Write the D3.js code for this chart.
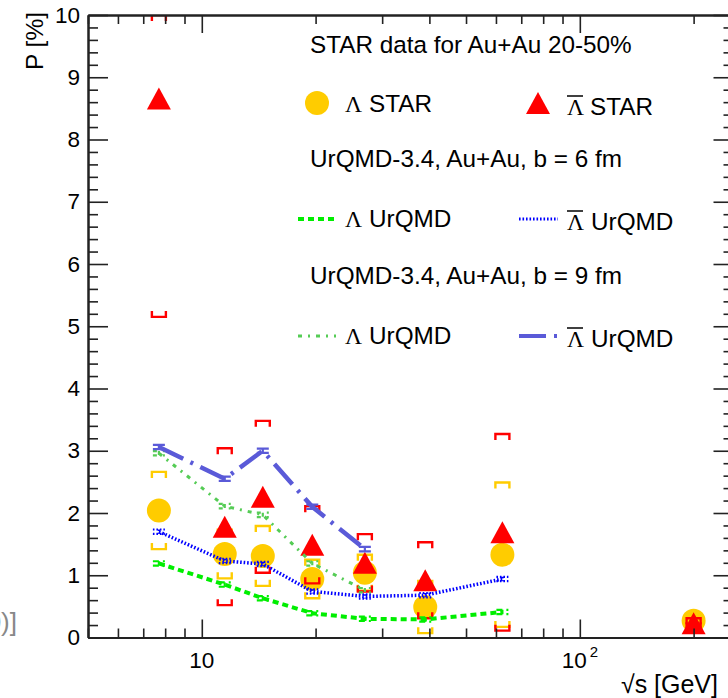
<!DOCTYPE html>
<html>
<head>
<meta charset="utf-8">
<script src="https://cdn.jsdelivr.net/npm/d3@7"></script>
<style>
  html, body { margin: 0; padding: 0; background: #fff; }
  svg { display: block; }
</style>
</head>
<body>
<script>
// ---------------- data ----------------
const energies = [7.7, 11.5, 14.5, 19.6, 27, 39, 62.4, 200];
const lamStar = [2.04, 1.34, 1.31, 0.94, 1.04, 0.49, 1.33, 0.27];
const lamStarErr = [0.62, 0.39, 0.48, 0.31, 0.29, 0.42, 1.16, 0.08];
const antiStar = [8.66, 1.78, 2.26, 1.49, 1.20, 0.92, 1.69, 0.23];
const antiStarErr = [3.51, 1.26, 1.22, 0.62, 0.46, 0.61, 1.58, 0.08];

const urqmdEnergies6 = [7.7, 11.5, 14.5, 19.6, 27, 39, 62.4];
const b6Lam = [1.19, 0.85, 0.63, 0.39, 0.30, 0.29, 0.41];
const b6Anti = [1.70, 1.23, 1.18, 0.74, 0.66, 0.68, 0.94];
const urqmdEnergies9 = [7.7, 11.5, 14.5, 19.6, 27];
const b9Lam = [2.96, 2.11, 1.97, 1.19, 0.76];
const b9Anti = [3.06, 2.55, 3.00, 2.10, 1.42];
const urqmdErr = 0.035;

const xMajorTicks = [10, 100];
const xMinorTicks = [5, 6, 7, 8, 9, 20, 30, 40, 50, 60, 70, 80, 90, 200];
const yMajorTicks = [0, 1, 2, 3, 4, 5, 6, 7, 8, 9, 10];

// ---------------- layout ----------------
const W = 728, H = 698;
const L = 88, R = 733.5, T = 15, B = 637.5;
const FONT = "'Liberation Sans', Arial, Helvetica, sans-serif";
const SERIF = "'Liberation Serif', 'DejaVu Serif', serif";
const LEGFS = 24.3;

const x = d3.scaleLog().domain([5, 255]).range([L, R]);
const y = d3.scaleLinear().domain([0, 10]).range([B, T]);

const svg = d3.select("body").append("svg").attr("width", W).attr("height", H);

svg.append("defs").append("clipPath").attr("id", "plotclip")
  .append("rect").attr("x", L).attr("y", T).attr("width", R - L).attr("height", B - T);

const plot = svg.append("g").attr("clip-path", "url(#plotclip)");

// ---------------- STAR markers ----------------
function bracket(g, xv, yTop, yBot, color) {
  const cx = x(xv), hw = 7, tk = 6;
  const yt = y(Math.min(yTop, 10));
  const yb = y(Math.max(yBot, 0));
  g.append("path")
    .attr("d", `M${cx - hw},${yt + tk}V${yt}H${cx + hw}V${yt + tk}`)
    .attr("fill", "none").attr("stroke", color).attr("stroke-width", 2.4);
  g.append("path")
    .attr("d", `M${cx - hw},${yb - tk}V${yb}H${cx + hw}V${yb - tk}`)
    .attr("fill", "none").attr("stroke", color).attr("stroke-width", 2.4);
}

const gLam = plot.append("g");
energies.forEach((e, i) => {
  gLam.append("circle").attr("cx", x(e)).attr("cy", y(lamStar[i])).attr("r", 12)
    .attr("fill", "#ffcc00");
});
energies.forEach((e, i) => {
  bracket(gLam, e, lamStar[i] + lamStarErr[i], lamStar[i] - lamStarErr[i], "#ffcc00");
});

const tri = (cx, cy, s) => {
  const h = s * 0.92;
  return `M${cx},${cy - h / 2}L${cx + s / 2},${cy + h / 2}L${cx - s / 2},${cy + h / 2}Z`;
};
const gAnti = plot.append("g");
energies.forEach((e, i) => {
  gAnti.append("path").attr("d", tri(x(e), y(antiStar[i]), 24)).attr("fill", "#ff0000");
});
energies.forEach((e, i) => {
  bracket(gAnti, e, antiStar[i] + antiStarErr[i], antiStar[i] - antiStarErr[i], "#ff0000");
});

// ---------------- UrQMD lines ----------------
function model(xs, vals, color, width, dash) {
  const g = plot.append("g");
  const line = d3.line().x((d, i) => x(xs[i])).y(d => y(d));
  g.append("path").datum(vals).attr("d", line)
    .attr("fill", "none").attr("stroke", color).attr("stroke-width", width)
    .attr("stroke-dasharray", dash);
  vals.forEach((v, i) => {
    const cx = x(xs[i]), y1 = y(v + urqmdErr), y2 = y(v - urqmdErr);
    g.append("path")
      .attr("d", `M${cx - 6},${y1}H${cx + 6}M${cx},${y1}V${y2}M${cx - 6},${y2}H${cx + 6}`)
      .attr("fill", "none").attr("stroke", color).attr("stroke-width", 2.2)
      .attr("stroke-dasharray", dash);
  });
}
const C_G6 = "#00ee00", C_B6 = "#0000ff", C_G9 = "#55cc55", C_B9 = "#5a5ad8";
const D_G6 = "6,4", D_B6 = "1.6,1.9", D_G9 = "4,6,2,6", D_B9 = "27,8,3,8";
model(urqmdEnergies6, b6Lam, C_G6, 4, D_G6);
model(urqmdEnergies6, b6Anti, C_B6, 3.5, D_B6);
model(urqmdEnergies9, b9Lam, C_G9, 3, D_G9);
model(urqmdEnergies9, b9Anti, C_B9, 4.5, D_B9);

// ---------------- axes ----------------
function styleAxis(g) {
  g.selectAll("path.domain").attr("stroke", "#222").attr("stroke-width", 2);
  g.selectAll(".tick line").attr("stroke", "#222").attr("stroke-width", 1.6);
}
const axes = svg.append("g");
axes.append("g").attr("transform", `translate(0,${B})`)
  .call(d3.axisBottom(x).tickValues(xMinorTicks).tickSize(-9).tickSizeOuter(0).tickFormat(""))
  .call(styleAxis);
axes.append("g").attr("transform", `translate(0,${B})`)
  .call(d3.axisBottom(x).tickValues(xMajorTicks).tickSize(-18).tickSizeOuter(0).tickFormat(""))
  .call(styleAxis);
axes.append("g").attr("transform", `translate(0,${T})`)
  .call(d3.axisTop(x).tickValues(xMinorTicks).tickSize(-9).tickSizeOuter(0).tickFormat(""))
  .call(styleAxis);
axes.append("g").attr("transform", `translate(0,${T})`)
  .call(d3.axisTop(x).tickValues(xMajorTicks).tickSize(-18).tickSizeOuter(0).tickFormat(""))
  .call(styleAxis);

const yMinor = d3.range(0, 50).map(k => k * 0.2).filter((v, k) => k % 5 !== 0);
axes.append("g").attr("transform", `translate(${L},0)`)
  .call(d3.axisLeft(y).tickValues(yMinor).tickSize(-10).tickSizeOuter(0).tickFormat(""))
  .call(styleAxis);
const yAx = axes.append("g").attr("transform", `translate(${L},0)`)
  .call(d3.axisLeft(y).tickValues(yMajorTicks).tickSize(-20).tickSizeOuter(0).tickPadding(8).tickFormat(d3.format("d")))
  .call(styleAxis);
yAx.selectAll("text").attr("font-family", FONT).attr("font-size", 22.5).attr("fill", "#000");
axes.append("g").attr("transform", `translate(${R},0)`)
  .call(d3.axisRight(y).tickValues(yMinor).tickSize(-10).tickSizeOuter(0).tickFormat(""))
  .call(styleAxis);
axes.append("g").attr("transform", `translate(${R},0)`)
  .call(d3.axisRight(y).tickValues(yMajorTicks).tickSize(-20).tickSizeOuter(0).tickFormat(""))
  .call(styleAxis);

// x tick labels
svg.append("text").attr("x", x(10)).attr("y", 668).attr("text-anchor", "middle")
  .attr("font-family", FONT).attr("font-size", 22.5).text("10");
const t100 = svg.append("text").attr("x", x(100)).attr("y", 668).attr("text-anchor", "middle")
  .attr("font-family", FONT).attr("font-size", 22.5);
t100.append("tspan").text("10");
t100.append("tspan").attr("dy", -11).attr("dx", 3).attr("font-size", 15).text("2");

// axis titles
svg.append("text").attr("x", 718).attr("y", 693).attr("text-anchor", "end")
  .attr("font-family", FONT).attr("font-size", 25).text("√s [GeV]");
svg.append("text").attr("transform", "translate(43,12) rotate(-90)").attr("text-anchor", "end")
  .attr("font-family", FONT).attr("font-size", 24.5).text("P [%]");

// cropped text at left edge (partially outside the picture in the reference too)
svg.append("text").attr("x", 17).attr("y", 631).attr("text-anchor", "end")
  .attr("font-family", FONT).attr("font-size", 26).attr("fill", "#888").text("0)]");

// ---------------- legend ----------------
const leg = svg.append("g");
function txt(xp, yp, s, fam) {
  return leg.append("text").attr("x", xp).attr("y", yp).attr("font-family", fam || FONT)
    .attr("font-size", LEGFS).attr("fill", "#000").text(s);
}
function lambda(xp, yp, bar) {
  leg.append("text").attr("x", xp).attr("y", yp).attr("font-family", SERIF)
    .attr("font-size", 23.5).text("Λ");
  if (bar) {
    leg.append("line").attr("x1", xp).attr("x2", xp + 16).attr("y1", yp - 19).attr("y2", yp - 19)
      .attr("stroke", "#000").attr("stroke-width", 1.5);
  }
}
txt(310, 53, "STAR data for Au+Au 20-50%");
leg.append("circle").attr("cx", 317).attr("cy", 103).attr("r", 12).attr("fill", "#ffcc00");
lambda(345, 112, false); txt(369, 112, "STAR");
leg.append("path").attr("d", tri(538, 103, 24)).attr("fill", "#ff0000");
lambda(567, 115, true); txt(590, 115, "STAR");

txt(310, 167, "UrQMD-3.4, Au+Au, b = 6 fm");
leg.append("line").attr("x1", 298).attr("x2", 336).attr("y1", 219).attr("y2", 219)
  .attr("stroke", C_G6).attr("stroke-width", 4).attr("stroke-dasharray", D_G6);
lambda(345, 227, false); txt(369, 227, "UrQMD");
leg.append("line").attr("x1", 519).attr("x2", 558).attr("y1", 219).attr("y2", 219)
  .attr("stroke", C_B6).attr("stroke-width", 3).attr("stroke-dasharray", D_B6);
lambda(567, 230, true); txt(591, 230, "UrQMD");

txt(310, 284, "UrQMD-3.4, Au+Au, b = 9 fm");
leg.append("line").attr("x1", 298).attr("x2", 336).attr("y1", 336).attr("y2", 336)
  .attr("stroke", C_G9).attr("stroke-width", 3).attr("stroke-dasharray", D_G9);
lambda(345, 344, false); txt(369, 344, "UrQMD");
leg.append("line").attr("x1", 519).attr("x2", 558).attr("y1", 336).attr("y2", 336)
  .attr("stroke", C_B9).attr("stroke-width", 4).attr("stroke-dasharray", D_B9);
lambda(567, 347, true); txt(591, 347, "UrQMD");
</script>
</body>
</html>
